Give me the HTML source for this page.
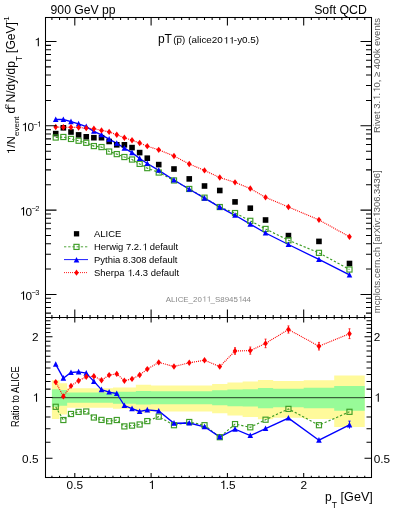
<!DOCTYPE html><html><head><meta charset="utf-8"><style>html,body{margin:0;padding:0;background:#fff;width:393px;height:512px;overflow:hidden}svg{display:block;will-change:transform}text{font-family:"Liberation Sans",sans-serif;white-space:pre}</style></head><body>
<svg width="393" height="512" viewBox="0 0 393 512">
<defs><clipPath id="c1"><rect x="45" y="17" width="327" height="301"/></clipPath><clipPath id="c2"><rect x="45" y="317" width="327" height="161"/></clipPath></defs>
<path d="M51.91,380.20H59.54V419.07H51.91ZM59.54,383.35H67.17V414.38H59.54ZM67.17,388.34H74.80V407.72H67.17ZM74.80,388.34H82.43V407.72H74.80ZM82.43,388.34H90.06V407.72H82.43ZM90.06,388.34H97.69V407.72H90.06ZM97.69,388.34H105.32V407.72H97.69ZM105.32,388.34H112.95V407.72H105.32ZM112.95,387.56H120.58V408.71H112.95ZM120.58,387.56H128.21V408.71H120.58ZM128.21,387.56H135.84V408.71H128.21ZM135.84,384.63H143.47V412.59H135.84ZM143.47,384.63H151.10V412.59H143.47ZM151.10,385.39H166.36V411.55H151.10ZM166.36,385.39H181.62V411.55H166.36ZM181.62,385.39H196.88V411.55H181.62ZM196.88,385.39H212.14V411.55H196.88ZM212.14,384.10H227.40V413.32H212.14ZM227.40,382.61H242.66V415.45H227.40ZM242.66,381.51H257.92V417.08H242.66ZM257.92,380.06H273.18V419.30H257.92ZM273.18,381.07H303.70V417.74H273.18ZM303.70,380.20H334.22V419.07H303.70ZM334.22,375.50H364.74V426.93H334.22Z" fill="#fffa9b"/>
<path d="M51.91,389.14H59.54V406.74H51.91ZM59.54,389.94H67.17V405.77H59.54ZM67.17,392.55H74.80V402.74H67.17ZM74.80,392.55H82.43V402.74H74.80ZM82.43,392.55H90.06V402.74H82.43ZM90.06,392.55H97.69V402.74H90.06ZM97.69,392.55H105.32V402.74H97.69ZM105.32,392.55H112.95V402.74H105.32ZM112.95,391.73H120.58V403.68H112.95ZM120.58,391.73H128.21V403.68H120.58ZM128.21,391.73H135.84V403.68H128.21ZM135.84,391.07H143.47V404.43H135.84ZM143.47,391.07H151.10V404.43H143.47ZM151.10,391.16H166.36V404.34H151.10ZM166.36,391.16H181.62V404.34H166.36ZM181.62,391.16H196.88V404.34H181.62ZM196.88,391.16H212.14V404.34H196.88ZM212.14,390.34H227.40V405.29H212.14ZM227.40,389.54H242.66V406.26H227.40ZM242.66,389.30H257.92V406.55H242.66ZM257.92,387.95H273.18V408.22H257.92ZM273.18,388.74H303.70V407.23H273.18ZM303.70,387.87H334.22V408.32H303.70ZM334.22,386.01H364.74V410.73H334.22Z" fill="#98fb98"/>
<line x1="51.91" y1="397.7" x2="364.74" y2="397.7" stroke="#000" stroke-width="1.0" stroke-opacity="0.75"/>
<polyline clip-path="url(#c2)" points="55.72,406.80 63.36,420.00 70.98,414.00 78.61,411.90 86.24,411.50 93.88,417.50 101.50,419.90 109.14,421.20 116.77,420.00 124.39,426.40 132.03,425.60 139.66,424.50 147.28,421.10 158.73,416.60 173.99,425.20 189.25,422.00 204.51,425.20 219.77,437.20 235.03,424.10 250.29,427.30 265.55,419.70 288.44,408.90 318.96,425.20 349.48,411.80" fill="none" stroke="#3d9c26" stroke-width="1.15" stroke-dasharray="2.3,1.9"/>
<polyline clip-path="url(#c2)" points="55.72,364.30 63.36,378.20 70.98,372.50 78.61,371.90 86.24,373.20 93.88,381.40 101.50,389.70 109.14,392.10 116.77,393.50 124.39,405.50 132.03,408.70 139.66,411.50 147.28,409.90 158.73,411.00 173.99,423.20 189.25,423.00 204.51,426.80 219.77,436.90 235.03,429.20 250.29,435.60 265.55,428.60 288.44,418.10 318.96,440.20 349.48,424.90" fill="none" stroke="#0000ff" stroke-width="1.35"/>
<polyline clip-path="url(#c2)" points="55.72,382.10 63.36,396.40 70.98,385.90 78.61,380.70 86.24,376.80 93.88,376.30 101.50,380.20 109.14,375.10 116.77,373.90 124.39,380.70 132.03,378.90 139.66,375.00 147.28,369.10 158.73,362.40 173.99,366.50 189.25,362.80 204.51,360.20 219.77,366.60 235.03,351.00 250.29,350.60 265.55,343.40 288.44,329.50 318.96,346.20 349.48,333.70" fill="none" stroke="#ff0000" stroke-width="1.15" stroke-dasharray="1,1"/>
<rect x="53.17" y="404.25" width="5.1" height="5.1" fill="none" stroke="#3d9c26" stroke-width="1.15"/>
<rect x="60.81" y="417.45" width="5.1" height="5.1" fill="none" stroke="#3d9c26" stroke-width="1.15"/>
<rect x="68.44" y="411.45" width="5.1" height="5.1" fill="none" stroke="#3d9c26" stroke-width="1.15"/>
<rect x="76.06" y="409.35" width="5.1" height="5.1" fill="none" stroke="#3d9c26" stroke-width="1.15"/>
<rect x="83.69" y="408.95" width="5.1" height="5.1" fill="none" stroke="#3d9c26" stroke-width="1.15"/>
<rect x="91.33" y="414.95" width="5.1" height="5.1" fill="none" stroke="#3d9c26" stroke-width="1.15"/>
<rect x="98.95" y="417.35" width="5.1" height="5.1" fill="none" stroke="#3d9c26" stroke-width="1.15"/>
<rect x="106.59" y="418.65" width="5.1" height="5.1" fill="none" stroke="#3d9c26" stroke-width="1.15"/>
<rect x="114.22" y="417.45" width="5.1" height="5.1" fill="none" stroke="#3d9c26" stroke-width="1.15"/>
<rect x="121.84" y="423.85" width="5.1" height="5.1" fill="none" stroke="#3d9c26" stroke-width="1.15"/>
<rect x="129.47" y="423.05" width="5.1" height="5.1" fill="none" stroke="#3d9c26" stroke-width="1.15"/>
<rect x="137.10" y="421.95" width="5.1" height="5.1" fill="none" stroke="#3d9c26" stroke-width="1.15"/>
<rect x="144.73" y="418.55" width="5.1" height="5.1" fill="none" stroke="#3d9c26" stroke-width="1.15"/>
<rect x="156.18" y="414.05" width="5.1" height="5.1" fill="none" stroke="#3d9c26" stroke-width="1.15"/>
<rect x="171.44" y="422.65" width="5.1" height="5.1" fill="none" stroke="#3d9c26" stroke-width="1.15"/>
<rect x="186.70" y="419.45" width="5.1" height="5.1" fill="none" stroke="#3d9c26" stroke-width="1.15"/>
<rect x="201.96" y="422.65" width="5.1" height="5.1" fill="none" stroke="#3d9c26" stroke-width="1.15"/>
<rect x="217.22" y="434.65" width="5.1" height="5.1" fill="none" stroke="#3d9c26" stroke-width="1.15"/>
<rect x="232.48" y="421.55" width="5.1" height="5.1" fill="none" stroke="#3d9c26" stroke-width="1.15"/>
<rect x="247.74" y="424.75" width="5.1" height="5.1" fill="none" stroke="#3d9c26" stroke-width="1.15"/>
<rect x="263.00" y="417.15" width="5.1" height="5.1" fill="none" stroke="#3d9c26" stroke-width="1.15"/>
<rect x="285.89" y="406.35" width="5.1" height="5.1" fill="none" stroke="#3d9c26" stroke-width="1.15"/>
<rect x="316.41" y="422.65" width="5.1" height="5.1" fill="none" stroke="#3d9c26" stroke-width="1.15"/>
<rect x="346.93" y="409.25" width="5.1" height="5.1" fill="none" stroke="#3d9c26" stroke-width="1.15"/>
<polygon points="55.72,361.22 52.92,366.82 58.52,366.82" fill="#0000ff"/>
<polygon points="63.36,375.12 60.56,380.72 66.16,380.72" fill="#0000ff"/>
<polygon points="70.98,369.42 68.19,375.02 73.78,375.02" fill="#0000ff"/>
<polygon points="78.61,368.82 75.81,374.42 81.41,374.42" fill="#0000ff"/>
<polygon points="86.24,370.12 83.44,375.72 89.04,375.72" fill="#0000ff"/>
<polygon points="93.88,378.32 91.08,383.92 96.67,383.92" fill="#0000ff"/>
<polygon points="101.50,386.62 98.70,392.22 104.30,392.22" fill="#0000ff"/>
<polygon points="109.14,389.02 106.34,394.62 111.94,394.62" fill="#0000ff"/>
<polygon points="116.77,390.42 113.97,396.02 119.56,396.02" fill="#0000ff"/>
<polygon points="124.39,402.42 121.59,408.02 127.19,408.02" fill="#0000ff"/>
<polygon points="132.03,405.62 129.22,411.22 134.83,411.22" fill="#0000ff"/>
<polygon points="139.66,408.42 136.85,414.02 142.46,414.02" fill="#0000ff"/>
<polygon points="147.28,406.82 144.48,412.42 150.09,412.42" fill="#0000ff"/>
<polygon points="158.73,407.92 155.93,413.52 161.53,413.52" fill="#0000ff"/>
<polygon points="173.99,420.12 171.19,425.72 176.79,425.72" fill="#0000ff"/>
<polygon points="189.25,419.92 186.45,425.52 192.05,425.52" fill="#0000ff"/>
<polygon points="204.51,423.72 201.71,429.32 207.31,429.32" fill="#0000ff"/>
<polygon points="219.77,433.82 216.97,439.42 222.57,439.42" fill="#0000ff"/>
<polygon points="235.03,426.12 232.23,431.72 237.83,431.72" fill="#0000ff"/>
<polygon points="250.29,432.52 247.49,438.12 253.09,438.12" fill="#0000ff"/>
<polygon points="265.55,425.52 262.75,431.12 268.35,431.12" fill="#0000ff"/>
<polygon points="288.44,415.02 285.64,420.62 291.24,420.62" fill="#0000ff"/>
<polygon points="318.96,437.12 316.16,442.72 321.76,442.72" fill="#0000ff"/>
<polygon points="349.48,421.82 346.68,427.42 352.28,427.42" fill="#0000ff"/>
<path d="M235.03,347.70V354.30M234.03,347.70h2.0M234.03,354.30h2.0" stroke="#ff0000" stroke-width="0.8" fill="none"/>
<path d="M250.29,347.00V354.20M249.29,347.00h2.0M249.29,354.20h2.0" stroke="#ff0000" stroke-width="0.8" fill="none"/>
<path d="M265.55,339.10V347.70M264.55,339.10h2.0M264.55,347.70h2.0" stroke="#ff0000" stroke-width="0.8" fill="none"/>
<path d="M288.44,325.90V333.10M287.44,325.90h2.0M287.44,333.10h2.0" stroke="#ff0000" stroke-width="0.8" fill="none"/>
<path d="M318.96,342.40V350.00M317.96,342.40h2.0M317.96,350.00h2.0" stroke="#ff0000" stroke-width="0.8" fill="none"/>
<path d="M349.48,328.80V338.60M348.48,328.80h2.0M348.48,338.60h2.0" stroke="#ff0000" stroke-width="0.8" fill="none"/>
<path d="M349.48,421.10V428.70M348.28,421.10h2.4" stroke="#0000ff" stroke-width="0.9" fill="none"/>
<polygon points="55.72,378.90 58.07,382.10 55.72,385.30 53.37,382.10" fill="#ff0000"/>
<polygon points="63.36,393.20 65.70,396.40 63.36,399.60 61.01,396.40" fill="#ff0000"/>
<polygon points="70.98,382.70 73.33,385.90 70.98,389.10 68.64,385.90" fill="#ff0000"/>
<polygon points="78.61,377.50 80.96,380.70 78.61,383.90 76.27,380.70" fill="#ff0000"/>
<polygon points="86.24,373.60 88.59,376.80 86.24,380.00 83.89,376.80" fill="#ff0000"/>
<polygon points="93.88,373.10 96.22,376.30 93.88,379.50 91.53,376.30" fill="#ff0000"/>
<polygon points="101.50,377.00 103.85,380.20 101.50,383.40 99.16,380.20" fill="#ff0000"/>
<polygon points="109.14,371.90 111.49,375.10 109.14,378.30 106.79,375.10" fill="#ff0000"/>
<polygon points="116.77,370.70 119.11,373.90 116.77,377.10 114.42,373.90" fill="#ff0000"/>
<polygon points="124.39,377.50 126.74,380.70 124.39,383.90 122.04,380.70" fill="#ff0000"/>
<polygon points="132.03,375.70 134.38,378.90 132.03,382.10 129.68,378.90" fill="#ff0000"/>
<polygon points="139.66,371.80 142.00,375.00 139.66,378.20 137.31,375.00" fill="#ff0000"/>
<polygon points="147.28,365.90 149.63,369.10 147.28,372.30 144.94,369.10" fill="#ff0000"/>
<polygon points="158.73,359.20 161.08,362.40 158.73,365.60 156.38,362.40" fill="#ff0000"/>
<polygon points="173.99,363.30 176.34,366.50 173.99,369.70 171.64,366.50" fill="#ff0000"/>
<polygon points="189.25,359.60 191.60,362.80 189.25,366.00 186.90,362.80" fill="#ff0000"/>
<polygon points="204.51,357.00 206.86,360.20 204.51,363.40 202.16,360.20" fill="#ff0000"/>
<polygon points="219.77,363.40 222.12,366.60 219.77,369.80 217.42,366.60" fill="#ff0000"/>
<polygon points="235.03,347.80 237.38,351.00 235.03,354.20 232.68,351.00" fill="#ff0000"/>
<polygon points="250.29,347.40 252.64,350.60 250.29,353.80 247.94,350.60" fill="#ff0000"/>
<polygon points="265.55,340.20 267.90,343.40 265.55,346.60 263.20,343.40" fill="#ff0000"/>
<polygon points="288.44,326.30 290.79,329.50 288.44,332.70 286.09,329.50" fill="#ff0000"/>
<polygon points="318.96,343.00 321.31,346.20 318.96,349.40 316.61,346.20" fill="#ff0000"/>
<polygon points="349.48,330.50 351.83,333.70 349.48,336.90 347.13,333.70" fill="#ff0000"/>
<polyline clip-path="url(#c1)" points="55.72,137.53 63.36,137.00 70.98,138.94 78.61,140.75 86.24,142.81 93.88,146.07 101.50,147.08 109.14,151.55 116.77,154.10 124.39,157.04 132.03,159.52 139.66,163.89 147.28,168.13 158.73,172.53 173.99,180.44 189.25,188.97 204.51,197.69 219.77,207.05 235.03,213.06 250.29,220.83 265.55,228.93 288.44,240.27 318.96,252.84 349.48,269.53" fill="none" stroke="#3d9c26" stroke-width="1.15" stroke-dasharray="2.3,1.9"/>
<polyline clip-path="url(#c1)" points="55.72,119.47 63.36,119.48 70.98,121.69 78.61,123.86 86.24,126.58 93.88,131.30 101.50,134.84 109.14,139.15 116.77,143.29 124.39,148.16 132.03,152.63 139.66,158.46 147.28,163.48 158.73,170.31 173.99,179.97 189.25,189.28 204.51,198.17 219.77,207.19 235.03,215.28 250.29,224.17 265.55,233.00 288.44,244.50 318.96,259.48 349.48,274.97" fill="none" stroke="#0000ff" stroke-width="1.35"/>
<polyline clip-path="url(#c1)" points="55.72,127.00 63.36,127.30 70.98,127.20 78.61,127.56 86.24,128.14 93.88,128.68 101.50,130.40 109.14,131.88 116.77,134.73 124.39,137.81 132.03,140.18 139.66,143.06 147.28,146.17 158.73,149.87 173.99,156.03 189.25,164.00 204.51,170.41 219.77,177.55 235.03,182.33 250.29,188.54 265.55,197.33 288.44,207.02 318.96,219.87 349.48,236.75" fill="none" stroke="#ff0000" stroke-width="1.15" stroke-dasharray="1,1"/>
<rect x="52.92" y="130.80" width="5.6" height="5.6" fill="#000"/>
<rect x="60.56" y="125.00" width="5.6" height="5.6" fill="#000"/>
<rect x="68.19" y="129.20" width="5.6" height="5.6" fill="#000"/>
<rect x="75.81" y="132.10" width="5.6" height="5.6" fill="#000"/>
<rect x="83.44" y="134.00" width="5.6" height="5.6" fill="#000"/>
<rect x="91.08" y="134.90" width="5.6" height="5.6" fill="#000"/>
<rect x="98.70" y="134.90" width="5.6" height="5.6" fill="#000"/>
<rect x="106.34" y="138.70" width="5.6" height="5.6" fill="#000"/>
<rect x="113.97" y="142.00" width="5.6" height="5.6" fill="#000"/>
<rect x="121.59" y="142.00" width="5.6" height="5.6" fill="#000"/>
<rect x="129.22" y="144.80" width="5.6" height="5.6" fill="#000"/>
<rect x="136.85" y="149.80" width="5.6" height="5.6" fill="#000"/>
<rect x="144.48" y="155.40" width="5.6" height="5.6" fill="#000"/>
<rect x="155.93" y="161.80" width="5.6" height="5.6" fill="#000"/>
<rect x="171.19" y="166.20" width="5.6" height="5.6" fill="#000"/>
<rect x="186.45" y="176.10" width="5.6" height="5.6" fill="#000"/>
<rect x="201.71" y="183.20" width="5.6" height="5.6" fill="#000"/>
<rect x="216.97" y="187.70" width="5.6" height="5.6" fill="#000"/>
<rect x="232.23" y="199.10" width="5.6" height="5.6" fill="#000"/>
<rect x="247.49" y="205.40" width="5.6" height="5.6" fill="#000"/>
<rect x="262.75" y="217.20" width="5.6" height="5.6" fill="#000"/>
<rect x="285.64" y="232.80" width="5.6" height="5.6" fill="#000"/>
<rect x="316.16" y="238.60" width="5.6" height="5.6" fill="#000"/>
<rect x="346.68" y="260.70" width="5.6" height="5.6" fill="#000"/>
<rect x="53.17" y="134.98" width="5.1" height="5.1" fill="none" stroke="#3d9c26" stroke-width="1.15"/>
<rect x="60.81" y="134.45" width="5.1" height="5.1" fill="none" stroke="#3d9c26" stroke-width="1.15"/>
<rect x="68.44" y="136.39" width="5.1" height="5.1" fill="none" stroke="#3d9c26" stroke-width="1.15"/>
<rect x="76.06" y="138.20" width="5.1" height="5.1" fill="none" stroke="#3d9c26" stroke-width="1.15"/>
<rect x="83.69" y="140.26" width="5.1" height="5.1" fill="none" stroke="#3d9c26" stroke-width="1.15"/>
<rect x="91.33" y="143.52" width="5.1" height="5.1" fill="none" stroke="#3d9c26" stroke-width="1.15"/>
<rect x="98.95" y="144.53" width="5.1" height="5.1" fill="none" stroke="#3d9c26" stroke-width="1.15"/>
<rect x="106.59" y="149.00" width="5.1" height="5.1" fill="none" stroke="#3d9c26" stroke-width="1.15"/>
<rect x="114.22" y="151.55" width="5.1" height="5.1" fill="none" stroke="#3d9c26" stroke-width="1.15"/>
<rect x="121.84" y="154.49" width="5.1" height="5.1" fill="none" stroke="#3d9c26" stroke-width="1.15"/>
<rect x="129.47" y="156.97" width="5.1" height="5.1" fill="none" stroke="#3d9c26" stroke-width="1.15"/>
<rect x="137.10" y="161.34" width="5.1" height="5.1" fill="none" stroke="#3d9c26" stroke-width="1.15"/>
<rect x="144.73" y="165.58" width="5.1" height="5.1" fill="none" stroke="#3d9c26" stroke-width="1.15"/>
<rect x="156.18" y="169.98" width="5.1" height="5.1" fill="none" stroke="#3d9c26" stroke-width="1.15"/>
<rect x="171.44" y="177.89" width="5.1" height="5.1" fill="none" stroke="#3d9c26" stroke-width="1.15"/>
<rect x="186.70" y="186.42" width="5.1" height="5.1" fill="none" stroke="#3d9c26" stroke-width="1.15"/>
<rect x="201.96" y="195.14" width="5.1" height="5.1" fill="none" stroke="#3d9c26" stroke-width="1.15"/>
<rect x="217.22" y="204.50" width="5.1" height="5.1" fill="none" stroke="#3d9c26" stroke-width="1.15"/>
<rect x="232.48" y="210.51" width="5.1" height="5.1" fill="none" stroke="#3d9c26" stroke-width="1.15"/>
<rect x="247.74" y="218.28" width="5.1" height="5.1" fill="none" stroke="#3d9c26" stroke-width="1.15"/>
<rect x="263.00" y="226.38" width="5.1" height="5.1" fill="none" stroke="#3d9c26" stroke-width="1.15"/>
<rect x="285.89" y="237.72" width="5.1" height="5.1" fill="none" stroke="#3d9c26" stroke-width="1.15"/>
<rect x="316.41" y="250.29" width="5.1" height="5.1" fill="none" stroke="#3d9c26" stroke-width="1.15"/>
<rect x="346.93" y="266.98" width="5.1" height="5.1" fill="none" stroke="#3d9c26" stroke-width="1.15"/>
<polygon points="55.72,116.39 52.92,121.99 58.52,121.99" fill="#0000ff"/>
<polygon points="63.36,116.40 60.56,122.00 66.16,122.00" fill="#0000ff"/>
<polygon points="70.98,118.61 68.19,124.21 73.78,124.21" fill="#0000ff"/>
<polygon points="78.61,120.78 75.81,126.38 81.41,126.38" fill="#0000ff"/>
<polygon points="86.24,123.50 83.44,129.10 89.04,129.10" fill="#0000ff"/>
<polygon points="93.88,128.22 91.08,133.82 96.67,133.82" fill="#0000ff"/>
<polygon points="101.50,131.76 98.70,137.36 104.30,137.36" fill="#0000ff"/>
<polygon points="109.14,136.07 106.34,141.67 111.94,141.67" fill="#0000ff"/>
<polygon points="116.77,140.21 113.97,145.81 119.56,145.81" fill="#0000ff"/>
<polygon points="124.39,145.08 121.59,150.68 127.19,150.68" fill="#0000ff"/>
<polygon points="132.03,149.55 129.22,155.15 134.83,155.15" fill="#0000ff"/>
<polygon points="139.66,155.38 136.85,160.98 142.46,160.98" fill="#0000ff"/>
<polygon points="147.28,160.40 144.48,166.00 150.09,166.00" fill="#0000ff"/>
<polygon points="158.73,167.23 155.93,172.83 161.53,172.83" fill="#0000ff"/>
<polygon points="173.99,176.89 171.19,182.49 176.79,182.49" fill="#0000ff"/>
<polygon points="189.25,186.20 186.45,191.80 192.05,191.80" fill="#0000ff"/>
<polygon points="204.51,195.09 201.71,200.69 207.31,200.69" fill="#0000ff"/>
<polygon points="219.77,204.11 216.97,209.71 222.57,209.71" fill="#0000ff"/>
<polygon points="235.03,212.20 232.23,217.80 237.83,217.80" fill="#0000ff"/>
<polygon points="250.29,221.09 247.49,226.69 253.09,226.69" fill="#0000ff"/>
<polygon points="265.55,229.92 262.75,235.52 268.35,235.52" fill="#0000ff"/>
<polygon points="288.44,241.42 285.64,247.02 291.24,247.02" fill="#0000ff"/>
<polygon points="318.96,256.40 316.16,262.00 321.76,262.00" fill="#0000ff"/>
<polygon points="349.48,271.89 346.68,277.49 352.28,277.49" fill="#0000ff"/>
<polygon points="55.72,123.80 58.07,127.00 55.72,130.20 53.37,127.00" fill="#ff0000"/>
<polygon points="63.36,124.10 65.70,127.30 63.36,130.50 61.01,127.30" fill="#ff0000"/>
<polygon points="70.98,124.00 73.33,127.20 70.98,130.40 68.64,127.20" fill="#ff0000"/>
<polygon points="78.61,124.36 80.96,127.56 78.61,130.76 76.27,127.56" fill="#ff0000"/>
<polygon points="86.24,124.94 88.59,128.14 86.24,131.34 83.89,128.14" fill="#ff0000"/>
<polygon points="93.88,125.48 96.22,128.68 93.88,131.88 91.53,128.68" fill="#ff0000"/>
<polygon points="101.50,127.20 103.85,130.40 101.50,133.60 99.16,130.40" fill="#ff0000"/>
<polygon points="109.14,128.68 111.49,131.88 109.14,135.08 106.79,131.88" fill="#ff0000"/>
<polygon points="116.77,131.53 119.11,134.73 116.77,137.93 114.42,134.73" fill="#ff0000"/>
<polygon points="124.39,134.61 126.74,137.81 124.39,141.01 122.04,137.81" fill="#ff0000"/>
<polygon points="132.03,136.98 134.38,140.18 132.03,143.38 129.68,140.18" fill="#ff0000"/>
<polygon points="139.66,139.86 142.00,143.06 139.66,146.26 137.31,143.06" fill="#ff0000"/>
<polygon points="147.28,142.97 149.63,146.17 147.28,149.37 144.94,146.17" fill="#ff0000"/>
<polygon points="158.73,146.67 161.08,149.87 158.73,153.07 156.38,149.87" fill="#ff0000"/>
<polygon points="173.99,152.83 176.34,156.03 173.99,159.23 171.64,156.03" fill="#ff0000"/>
<polygon points="189.25,160.80 191.60,164.00 189.25,167.20 186.90,164.00" fill="#ff0000"/>
<polygon points="204.51,167.21 206.86,170.41 204.51,173.61 202.16,170.41" fill="#ff0000"/>
<polygon points="219.77,174.35 222.12,177.55 219.77,180.75 217.42,177.55" fill="#ff0000"/>
<polygon points="235.03,179.13 237.38,182.33 235.03,185.53 232.68,182.33" fill="#ff0000"/>
<polygon points="250.29,185.34 252.64,188.54 250.29,191.74 247.94,188.54" fill="#ff0000"/>
<polygon points="265.55,194.13 267.90,197.33 265.55,200.53 263.20,197.33" fill="#ff0000"/>
<polygon points="288.44,203.82 290.79,207.02 288.44,210.22 286.09,207.02" fill="#ff0000"/>
<polygon points="318.96,216.67 321.31,219.87 318.96,223.07 316.61,219.87" fill="#ff0000"/>
<polygon points="349.48,233.55 351.83,236.75 349.48,239.95 347.13,236.75" fill="#ff0000"/>
<g stroke="#000" stroke-width="1.05" fill="none">
<rect x="45.5" y="17.5" width="326.0" height="460.0"/>
<line x1="45.5" y1="317.5" x2="371.5" y2="317.5"/>
<path d="M51.91,17.5v2.5 M51.91,317.5v-2.5 M51.91,317.5v1.8 M51.91,477.5v-1.8 M59.54,17.5v2.5 M59.54,317.5v-2.5 M59.54,317.5v1.8 M59.54,477.5v-1.8 M67.17,17.5v2.5 M67.17,317.5v-2.5 M67.17,317.5v1.8 M67.17,477.5v-1.8 M74.80,17.5v8 M74.80,317.5v-8 M74.80,317.5v5 M74.80,477.5v-4.5 M82.43,17.5v2.5 M82.43,317.5v-2.5 M82.43,317.5v1.8 M82.43,477.5v-1.8 M90.06,17.5v2.5 M90.06,317.5v-2.5 M90.06,317.5v1.8 M90.06,477.5v-1.8 M97.69,17.5v2.5 M97.69,317.5v-2.5 M97.69,317.5v1.8 M97.69,477.5v-1.8 M105.32,17.5v2.5 M105.32,317.5v-2.5 M105.32,317.5v1.8 M105.32,477.5v-1.8 M112.95,17.5v2.5 M112.95,317.5v-2.5 M112.95,317.5v1.8 M112.95,477.5v-1.8 M120.58,17.5v2.5 M120.58,317.5v-2.5 M120.58,317.5v1.8 M120.58,477.5v-1.8 M128.21,17.5v2.5 M128.21,317.5v-2.5 M128.21,317.5v1.8 M128.21,477.5v-1.8 M135.84,17.5v2.5 M135.84,317.5v-2.5 M135.84,317.5v1.8 M135.84,477.5v-1.8 M143.47,17.5v2.5 M143.47,317.5v-2.5 M143.47,317.5v1.8 M143.47,477.5v-1.8 M151.10,17.5v8 M151.10,317.5v-8 M151.10,317.5v5 M151.10,477.5v-4.5 M158.73,17.5v2.5 M158.73,317.5v-2.5 M158.73,317.5v1.8 M158.73,477.5v-1.8 M166.36,17.5v2.5 M166.36,317.5v-2.5 M166.36,317.5v1.8 M166.36,477.5v-1.8 M173.99,17.5v2.5 M173.99,317.5v-2.5 M173.99,317.5v1.8 M173.99,477.5v-1.8 M181.62,17.5v2.5 M181.62,317.5v-2.5 M181.62,317.5v1.8 M181.62,477.5v-1.8 M189.25,17.5v2.5 M189.25,317.5v-2.5 M189.25,317.5v1.8 M189.25,477.5v-1.8 M196.88,17.5v2.5 M196.88,317.5v-2.5 M196.88,317.5v1.8 M196.88,477.5v-1.8 M204.51,17.5v2.5 M204.51,317.5v-2.5 M204.51,317.5v1.8 M204.51,477.5v-1.8 M212.14,17.5v2.5 M212.14,317.5v-2.5 M212.14,317.5v1.8 M212.14,477.5v-1.8 M219.77,17.5v2.5 M219.77,317.5v-2.5 M219.77,317.5v1.8 M219.77,477.5v-1.8 M227.40,17.5v8 M227.40,317.5v-8 M227.40,317.5v5 M227.40,477.5v-4.5 M235.03,17.5v2.5 M235.03,317.5v-2.5 M235.03,317.5v1.8 M235.03,477.5v-1.8 M242.66,17.5v2.5 M242.66,317.5v-2.5 M242.66,317.5v1.8 M242.66,477.5v-1.8 M250.29,17.5v2.5 M250.29,317.5v-2.5 M250.29,317.5v1.8 M250.29,477.5v-1.8 M257.92,17.5v2.5 M257.92,317.5v-2.5 M257.92,317.5v1.8 M257.92,477.5v-1.8 M265.55,17.5v2.5 M265.55,317.5v-2.5 M265.55,317.5v1.8 M265.55,477.5v-1.8 M273.18,17.5v2.5 M273.18,317.5v-2.5 M273.18,317.5v1.8 M273.18,477.5v-1.8 M280.81,17.5v2.5 M280.81,317.5v-2.5 M280.81,317.5v1.8 M280.81,477.5v-1.8 M288.44,17.5v2.5 M288.44,317.5v-2.5 M288.44,317.5v1.8 M288.44,477.5v-1.8 M296.07,17.5v2.5 M296.07,317.5v-2.5 M296.07,317.5v1.8 M296.07,477.5v-1.8 M303.70,17.5v8 M303.70,317.5v-8 M303.70,317.5v5 M303.70,477.5v-4.5 M311.33,17.5v2.5 M311.33,317.5v-2.5 M311.33,317.5v1.8 M311.33,477.5v-1.8 M318.96,17.5v2.5 M318.96,317.5v-2.5 M318.96,317.5v1.8 M318.96,477.5v-1.8 M326.59,17.5v2.5 M326.59,317.5v-2.5 M326.59,317.5v1.8 M326.59,477.5v-1.8 M334.22,17.5v2.5 M334.22,317.5v-2.5 M334.22,317.5v1.8 M334.22,477.5v-1.8 M341.85,17.5v2.5 M341.85,317.5v-2.5 M341.85,317.5v1.8 M341.85,477.5v-1.8 M349.48,17.5v2.5 M349.48,317.5v-2.5 M349.48,317.5v1.8 M349.48,477.5v-1.8 M357.11,17.5v2.5 M357.11,317.5v-2.5 M357.11,317.5v1.8 M357.11,477.5v-1.8 M364.74,17.5v2.5 M364.74,317.5v-2.5 M364.74,317.5v1.8 M364.74,477.5v-1.8 M45.5,313.10h5.5 M371.5,313.10h-5.5 M45.5,307.46h5.5 M371.5,307.46h-5.5 M45.5,302.57h5.5 M371.5,302.57h-5.5 M45.5,298.26h5.5 M371.5,298.26h-5.5 M45.5,294.40h11 M371.5,294.40h-11 M45.5,269.02h5.5 M371.5,269.02h-5.5 M45.5,254.18h5.5 M371.5,254.18h-5.5 M45.5,243.65h5.5 M371.5,243.65h-5.5 M45.5,235.48h5.5 M371.5,235.48h-5.5 M45.5,228.80h5.5 M371.5,228.80h-5.5 M45.5,223.16h5.5 M371.5,223.16h-5.5 M45.5,218.27h5.5 M371.5,218.27h-5.5 M45.5,213.96h5.5 M371.5,213.96h-5.5 M45.5,210.10h11 M371.5,210.10h-11 M45.5,184.72h5.5 M371.5,184.72h-5.5 M45.5,169.88h5.5 M371.5,169.88h-5.5 M45.5,159.35h5.5 M371.5,159.35h-5.5 M45.5,151.18h5.5 M371.5,151.18h-5.5 M45.5,144.50h5.5 M371.5,144.50h-5.5 M45.5,138.86h5.5 M371.5,138.86h-5.5 M45.5,133.97h5.5 M371.5,133.97h-5.5 M45.5,129.66h5.5 M371.5,129.66h-5.5 M45.5,125.80h11 M371.5,125.80h-11 M45.5,100.42h5.5 M371.5,100.42h-5.5 M45.5,85.58h5.5 M371.5,85.58h-5.5 M45.5,75.05h5.5 M371.5,75.05h-5.5 M45.5,66.88h5.5 M371.5,66.88h-5.5 M45.5,60.20h5.5 M371.5,60.20h-5.5 M45.5,54.56h5.5 M371.5,54.56h-5.5 M45.5,49.67h5.5 M371.5,49.67h-5.5 M45.5,45.36h5.5 M371.5,45.36h-5.5 M45.5,41.50h11 M371.5,41.50h-11 M45.5,458.31h7 M371.5,458.31h-7 M45.5,442.31h5 M371.5,442.31h-5 M45.5,428.79h5 M371.5,428.79h-5 M45.5,417.08h5 M371.5,417.08h-5 M45.5,406.74h5 M371.5,406.74h-5 M45.5,397.50h7 M371.5,397.50h-7 M45.5,389.14h5 M371.5,389.14h-5 M45.5,381.51h5 M371.5,381.51h-5 M45.5,374.48h5 M371.5,374.48h-5 M45.5,367.98h5 M371.5,367.98h-5 M45.5,361.93h5 M371.5,361.93h-5 M45.5,356.27h5 M371.5,356.27h-5 M45.5,350.95h5 M371.5,350.95h-5 M45.5,345.93h5 M371.5,345.93h-5 M45.5,341.19h5 M371.5,341.19h-5 M45.5,336.69h7 M371.5,336.69h-7 M45.5,332.41h5 M371.5,332.41h-5 M45.5,328.33h5 M371.5,328.33h-5 M45.5,324.43h5 M371.5,324.43h-5 M45.5,320.70h5 M371.5,320.70h-5"/>
</g>
<text x="50.6" y="13.8" font-size="12.2">900 GeV pp</text>
<text x="366.8" y="13.8" font-size="12.3" text-anchor="end">Soft QCD</text>
<text x="157.9" y="42.5" font-size="12">pT</text>
<text transform="translate(173.3,43) scale(1.1,1)" font-size="8.8">(p)</text>
<line x1="176.2" y1="36.3" x2="182.2" y2="36.3" stroke="#000" stroke-width="0.8"/>
<g transform="translate(188.2,43.4) scale(1.1,1)" fill="#000"><text x="0.00" y="0" font-size="9">(alice20</text><path transform="translate(31.52,0) scale(9,-9)" d="M0.343,0L0.433,0L0.433,0.716L0.375,0.716C0.35,0.64 0.28,0.585 0.169,0.575L0.169,0.51C0.25,0.515 0.31,0.54 0.343,0.57Z"/><path transform="translate(36.52,0) scale(9,-9)" d="M0.343,0L0.433,0L0.433,0.716L0.375,0.716C0.35,0.64 0.28,0.585 0.169,0.575L0.169,0.51C0.25,0.515 0.31,0.54 0.343,0.57Z"/><text x="41.53" y="0" font-size="9">-y0.5)</text></g>
<path transform="translate(33.74,46.20) scale(11.8,-11.8)" d="M0.343,0L0.433,0L0.433,0.716L0.375,0.716C0.35,0.64 0.28,0.585 0.169,0.575L0.169,0.51C0.25,0.515 0.31,0.54 0.343,0.57Z" fill="#000"/>
<path transform="translate(20.87,131.20) scale(11.8,-11.8)" d="M0.343,0L0.433,0L0.433,0.716L0.375,0.716C0.35,0.64 0.28,0.585 0.169,0.575L0.169,0.51C0.25,0.515 0.31,0.54 0.343,0.57Z" fill="#000"/><text x="27.44" y="131.20" font-size="11.8" fill="#000">0</text>
<text x="33.30" y="126.80" font-size="7.5">&#8722;</text>
<path transform="translate(36.65,126.80) scale(7.6,-7.6)" d="M0.343,0L0.433,0L0.433,0.716L0.375,0.716C0.35,0.64 0.28,0.585 0.169,0.575L0.169,0.51C0.25,0.515 0.31,0.54 0.343,0.57Z" fill="#000"/>
<path transform="translate(18.97,215.50) scale(11.8,-11.8)" d="M0.343,0L0.433,0L0.433,0.716L0.375,0.716C0.35,0.64 0.28,0.585 0.169,0.575L0.169,0.51C0.25,0.515 0.31,0.54 0.343,0.57Z" fill="#000"/><text x="25.54" y="215.50" font-size="11.8" fill="#000">0</text>
<text x="31.40" y="211.10" font-size="7.5" letter-spacing="-0.6">&#8722;2</text>
<path transform="translate(18.97,299.80) scale(11.8,-11.8)" d="M0.343,0L0.433,0L0.433,0.716L0.375,0.716C0.35,0.64 0.28,0.585 0.169,0.575L0.169,0.51C0.25,0.515 0.31,0.54 0.343,0.57Z" fill="#000"/><text x="25.54" y="299.80" font-size="11.8" fill="#000">0</text>
<text x="31.40" y="295.40" font-size="7.5" letter-spacing="-0.6">&#8722;3</text>
<text x="31.94" y="340.99" font-size="11.8" fill="#000">2</text>
<path transform="translate(31.94,401.80) scale(11.8,-11.8)" d="M0.343,0L0.433,0L0.433,0.716L0.375,0.716C0.35,0.64 0.28,0.585 0.169,0.575L0.169,0.51C0.25,0.515 0.31,0.54 0.343,0.57Z" fill="#000"/>
<text x="22.10" y="462.61" font-size="11.8" fill="#000">0.5</text>
<text x="373.70" y="340.99" font-size="11.8" fill="#000">2</text>
<path transform="translate(373.70,401.80) scale(11.8,-11.8)" d="M0.343,0L0.433,0L0.433,0.716L0.375,0.716C0.35,0.64 0.28,0.585 0.169,0.575L0.169,0.51C0.25,0.515 0.31,0.54 0.343,0.57Z" fill="#000"/>
<text x="373.70" y="462.61" font-size="11.8" fill="#000">0.5</text>
<text x="66.60" y="489.00" font-size="11.8" fill="#000">0.5</text>
<path transform="translate(147.82,489.00) scale(11.8,-11.8)" d="M0.343,0L0.433,0L0.433,0.716L0.375,0.716C0.35,0.64 0.28,0.585 0.169,0.575L0.169,0.51C0.25,0.515 0.31,0.54 0.343,0.57Z" fill="#000"/>
<path transform="translate(219.20,489.00) scale(11.8,-11.8)" d="M0.343,0L0.433,0L0.433,0.716L0.375,0.716C0.35,0.64 0.28,0.585 0.169,0.575L0.169,0.51C0.25,0.515 0.31,0.54 0.343,0.57Z" fill="#000"/><text x="225.76" y="489.00" font-size="11.8" fill="#000">.5</text>
<text x="300.42" y="489.00" font-size="11.8" fill="#000">2</text>
<text x="325" y="501" font-size="12">p<tspan font-size="8.5" dy="7">T</tspan></text>
<text x="340.6" y="501" font-size="12.6">[GeV]</text>
<path transform="translate(15.0,154.9) rotate(-90) scale(11.5,-11.5)" d="M0.343,0L0.433,0L0.433,0.716L0.375,0.716C0.35,0.64 0.28,0.585 0.169,0.575L0.169,0.51C0.25,0.515 0.31,0.54 0.343,0.57Z" fill="#000"/>
<text transform="translate(15.0,147.8) rotate(-90)" font-size="11.5">/N</text>
<text transform="translate(19.4,136.0) rotate(-90)" font-size="8">event</text>
<text transform="translate(15.3,113.4) rotate(-90)" font-size="12">d</text>
<text transform="translate(9.0,108.7) rotate(-90) scale(1.45,1)" font-size="6.2">2</text>
<text transform="translate(15.0,102.5) rotate(-90)" font-size="12">N/dy/dp</text>
<text transform="translate(21.9,61.0) rotate(-90)" font-size="8.3">T</text>
<text transform="translate(15.3,52.9) rotate(-90)" font-size="12">[GeV]</text>
<text transform="translate(8.8,23.8) rotate(-90)" font-size="7.2" letter-spacing="-0.9">&#8722;1</text>
<text transform="translate(19.2,427) rotate(-90) scale(0.85,1)" font-size="10.9">Ratio to ALICE</text>
<g transform="translate(380.0,133) rotate(-90)" fill="#555"><text x="0.00" y="0" font-size="9.5">Rivet 3.</text><path transform="translate(32.21,0) scale(9.5,-9.5)" d="M0.343,0L0.433,0L0.433,0.716L0.375,0.716C0.35,0.64 0.28,0.585 0.169,0.575L0.169,0.51C0.25,0.515 0.31,0.54 0.343,0.57Z"/><text x="37.49" y="0" font-size="9.5">.</text><path transform="translate(40.13,0) scale(9.5,-9.5)" d="M0.343,0L0.433,0L0.433,0.716L0.375,0.716C0.35,0.64 0.28,0.585 0.169,0.575L0.169,0.51C0.25,0.515 0.31,0.54 0.343,0.57Z"/><text x="45.41" y="0" font-size="9.5">0, &#8805; 400k events</text></g>
<g transform="translate(379.9,313.2) rotate(-90)" fill="#555"><text x="0.00" y="0" font-size="9.45">mcplots.cern.ch [arXiv:</text><path transform="translate(95.58,0) scale(9.45,-9.45)" d="M0.343,0L0.433,0L0.433,0.716L0.375,0.716C0.35,0.64 0.28,0.585 0.169,0.575L0.169,0.51C0.25,0.515 0.31,0.54 0.343,0.57Z"/><text x="100.84" y="0" font-size="9.45">306.3436]</text></g>
<g transform="translate(165.8,301.8)" fill="#888"><text x="0.00" y="0" font-size="7.9">ALICE_20</text><path transform="translate(36.01,0) scale(7.9,-7.9)" d="M0.343,0L0.433,0L0.433,0.716L0.375,0.716C0.35,0.64 0.28,0.585 0.169,0.575L0.169,0.51C0.25,0.515 0.31,0.54 0.343,0.57Z"/><path transform="translate(40.41,0) scale(7.9,-7.9)" d="M0.343,0L0.433,0L0.433,0.716L0.375,0.716C0.35,0.64 0.28,0.585 0.169,0.575L0.169,0.51C0.25,0.515 0.31,0.54 0.343,0.57Z"/><text x="44.80" y="0" font-size="7.9">_S8945</text><path transform="translate(72.04,0) scale(7.9,-7.9)" d="M0.343,0L0.433,0L0.433,0.716L0.375,0.716C0.35,0.64 0.28,0.585 0.169,0.575L0.169,0.51C0.25,0.515 0.31,0.54 0.343,0.57Z"/><text x="76.43" y="0" font-size="7.9">44</text></g>
<rect x="73.90" y="231.15" width="5.3" height="5.3" fill="#000"/>
<text x="94" y="237.2" font-size="9.45">ALICE</text>
<line x1="64" y1="246.8" x2="88" y2="246.8" stroke="#3d9c26" stroke-width="0.9" stroke-dasharray="2.3,1.9"/>
<rect x="73.95" y="244.35" width="5.1" height="5.1" fill="none" stroke="#3d9c26" stroke-width="1.15"/>
<g transform="translate(94,250.2)" fill="#000"><text x="0.00" y="0" font-size="9.45">Herwig 7.2.</text><path transform="translate(47.79,0) scale(9.45,-9.45)" d="M0.343,0L0.433,0L0.433,0.716L0.375,0.716C0.35,0.64 0.28,0.585 0.169,0.575L0.169,0.51C0.25,0.515 0.31,0.54 0.343,0.57Z"/><text x="53.05" y="0" font-size="9.45"> default</text></g>
<line x1="64" y1="259.6" x2="88" y2="259.6" stroke="#0000ff" stroke-width="0.9"/>
<polygon points="76.50,256.92 73.70,262.52 79.30,262.52" fill="#0000ff"/>
<g transform="translate(94,263.2)" fill="#000"><text x="0.00" y="0" font-size="9.45">Pythia 8.308 default</text></g>
<line x1="64" y1="272.6" x2="88" y2="272.6" stroke="#ff0000" stroke-width="0.9" stroke-dasharray="1,1"/>
<polygon points="76.50,269.60 78.70,272.70 76.50,275.80 74.30,272.70" fill="#ff0000"/>
<g transform="translate(94,276.2)" fill="#000"><text x="0.00" y="0" font-size="9.45">Sherpa </text><path transform="translate(33.10,0) scale(9.45,-9.45)" d="M0.343,0L0.433,0L0.433,0.716L0.375,0.716C0.35,0.64 0.28,0.585 0.169,0.575L0.169,0.51C0.25,0.515 0.31,0.54 0.343,0.57Z"/><text x="38.35" y="0" font-size="9.45">.4.3 default</text></g>
</svg></body></html>
